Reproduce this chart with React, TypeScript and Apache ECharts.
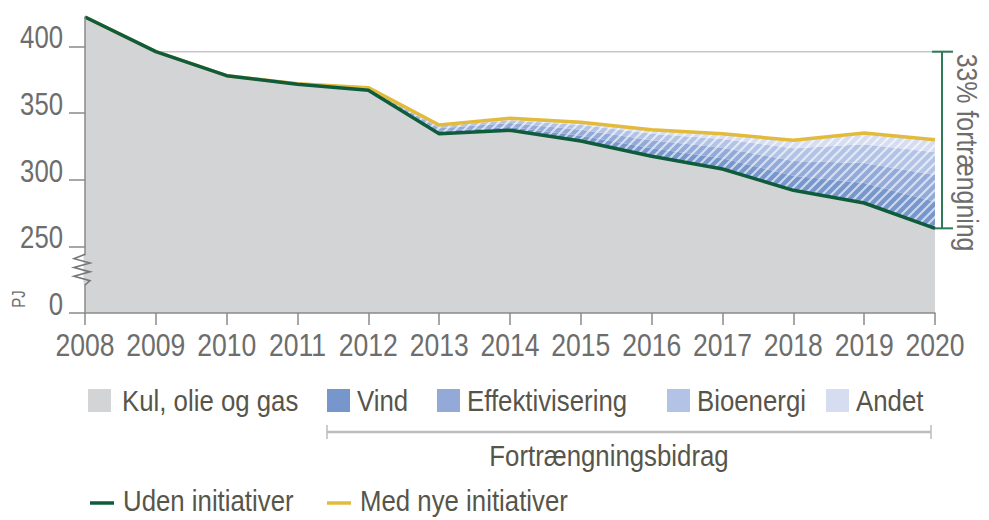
import React, { useEffect, useRef } from "react";
import * as echarts from "echarts";

const years = ["2008", "2009", "2010", "2011", "2012", "2013", "2014", "2015", "2016", "2017", "2018", "2019", "2020"];
const udenInitiativer = [422, 396, 378, 371.5, 367, 334.5, 337, 329, 317.5, 308, 292, 282.5, 263.5];
const medNyeInitiativer = [422, 396, 378, 372, 369, 341, 346, 343, 337.5, 334.5, 329.5, 335, 330];
const vind = [0, 0, 0, 0.15, 0.6, 2, 2.5, 4, 6, 8, 11, 15, 20];
const effektivisering = [0, 0, 0, 0.15, 0.6, 2, 3, 4.5, 6, 8, 11, 15, 20];
const bioenergi = [0, 0, 0, 0.1, 0.5, 1.5, 2, 3.5, 5, 6.5, 9.5, 14, 17];
const andet = [0, 0, 0, 0.1, 0.3, 1, 1.5, 2, 3, 4, 6, 8.5, 9.5];
const yTickValues = [200, 250, 300, 350, 400];
const yTickLabels = ["0", "250", "300", "350", "400"];

const bandNames = ["Vind", "Effektivisering", "Bioenergi", "Andet"];
const bandData = [vind, effektivisering, bioenergi, andet];
const bandColors = ["#7796cb", "#93aad8", "#b2c3e5", "#d6ddf0"];
const fossilName = "Kul, olie og gas";
const fossilColor = "#d3d4d6";
const lineNames = ["Uden initiativer", "Med nye initiativer"];
const greenColor = "#0f5c3c";
const yellowColor = "#e2bb3c";
const bracketLabel = "33% fortrængning";
const groupLabel = "Fortrængningsbidrag";
const unitLabel = "PJ";

const FONT = '"Liberation Sans",Arial,Helvetica,sans-serif';
const SX = 0.83;
const SX_LEGEND = 0.86;
const AXIS_TEXT = "#6d6d6d";
const LEGEND_TEXT = "#57554a";
const AXIS_LINE = "#8a8a8a";

function makeHatch() {
  const s = 9;
  const c = document.createElement("canvas");
  c.width = s;
  c.height = s;
  const ctx = c.getContext("2d")!;
  ctx.strokeStyle = "rgba(255,255,255,0.62)";
  ctx.lineWidth = 2.2;
  ctx.beginPath();
  ctx.moveTo(-1, s + 1);
  ctx.lineTo(s + 1, -1);
  ctx.moveTo(-2, 2);
  ctx.lineTo(2, -2);
  ctx.moveTo(s - 2, s + 2);
  ctx.lineTo(s + 2, s - 2);
  ctx.stroke();
  return c;
}

function txt(text: string, x: number, y: number, size: number, fill: string, align: string, extra: any = {}, sx = SX) {
  return {
    type: "text",
    x,
    y,
    scaleX: sx,
    style: { text, fill, font: `${size}px ${FONT}`, textAlign: align, textVerticalAlign: "middle" },
    z: 20,
    ...extra,
  };
}

export default function App() {
  const ref = useRef<HTMLDivElement>(null);
  useEffect(() => {
    if (!ref.current) return;
    const chart = echarts.init(ref.current, undefined, { renderer: "svg" });
    const hatch = makeHatch();
    const hatchDiff = medNyeInitiativer.map((v, i) => +(v - udenInitiativer[i]).toFixed(2));

    const series: any[] = [
      {
        name: fossilName,
        type: "line",
        data: udenInitiativer,
        showSymbol: false,
        lineStyle: { width: 0 },
        areaStyle: { color: fossilColor, opacity: 1 },
        z: 1,
      },
      {
        name: "base",
        type: "line",
        stack: "fb",
        data: udenInitiativer,
        showSymbol: false,
        lineStyle: { width: 0, opacity: 0 },
        z: 2,
      },
      ...bandNames.map((n, i) => ({
        name: n,
        type: "line",
        stack: "fb",
        data: bandData[i],
        showSymbol: false,
        lineStyle: { width: 0, opacity: 0 },
        areaStyle: { color: bandColors[i], opacity: 1 },
        z: 2,
      })),
      {
        name: "hatchBase",
        type: "line",
        stack: "h",
        data: udenInitiativer,
        showSymbol: false,
        lineStyle: { width: 0, opacity: 0 },
        z: 3,
      },
      {
        name: "hatch",
        type: "line",
        stack: "h",
        data: hatchDiff,
        showSymbol: false,
        lineStyle: { width: 0, opacity: 0 },
        areaStyle: {
          color: { image: hatch, repeat: "repeat", imageWidth: 9, imageHeight: 9 } as any,
          opacity: 1,
        },
        z: 3,
      },
      {
        name: lineNames[1],
        type: "line",
        data: medNyeInitiativer,
        showSymbol: false,
        lineStyle: { width: 3.5, color: yellowColor },
        z: 4,
      },
      {
        name: lineNames[0],
        type: "line",
        data: udenInitiativer,
        showSymbol: false,
        lineStyle: { width: 3.5, color: greenColor },
        z: 5,
      },
    ];

    chart.setOption({
      animation: false,
      grid: { left: 85, right: 54, top: 17, bottom: 207 },
      xAxis: {
        type: "category",
        data: years,
        boundaryGap: false,
        z: 10,
        axisLine: { lineStyle: { color: AXIS_LINE, width: 1.5 } },
        axisTick: { show: true, interval: 0, length: 12, lineStyle: { color: AXIS_LINE, width: 1.5 } },
        axisLabel: { show: false },
        splitLine: { show: false },
      },
      yAxis: {
        type: "value",
        min: 200,
        max: 422,
        interval: 50,
        z: 10,
        axisLine: { show: true, lineStyle: { color: AXIS_LINE, width: 1.5 } },
        axisTick: { show: true, length: 16, customValues: yTickValues, lineStyle: { color: AXIS_LINE, width: 1.5 } },
        axisLabel: { show: false },
        splitLine: { show: false },
      },
      series,
    });

    // annotations computed from data through the chart's scales
    const p = (i: number, v: number) => chart.convertToPixel({ gridIndex: 0 }, [i, v]) as number[];
    const last = years.length - 1;
    const top = p(1, udenInitiativer[1]);
    const bottom = p(last, udenInitiativer[last]);
    const xBr = bottom[0] + 7;
    const base = p(0, 200);
    const axisX = base[0];
    const axisY = base[1];
    const zTop = p(0, 244)[1];
    const zBot = p(0, 221)[1];
    const zh = zBot - zTop;
    const zig: number[][] = [[axisX, zTop]];
    const nZ = 6;
    for (let k = 1; k <= nZ; k++) {
      zig.push([k % 2 === 1 ? axisX - 11 : axisX + 5, zTop + (zh * k) / (nZ + 1)]);
    }
    zig.push([axisX, zBot]);

    const legendRow1 = [
      { name: fossilName, color: fossilColor, x: 88 },
      ...bandNames.map((n, i) => ({ name: n, color: bandColors[i], x: [327, 437, 667, 826][i] })),
    ];
    const legendRow3 = [
      { name: lineNames[0], color: greenColor, x: 90 },
      { name: lineNames[1], color: yellowColor, x: 327 },
    ];

    const xLabels = years.map((y, i) => txt(y, p(i, 200)[0], axisY + 32, 32, AXIS_TEXT, "center"));
    const yLabels = yTickValues.map((v, i) => txt(yTickLabels[i], axisX - 22, p(0, v)[1] - 9, 31, AXIS_TEXT, "right"));

    const graphic: any[] = [
      ...xLabels,
      ...yLabels,
      {
        type: "line",
        shape: { x1: top[0], y1: top[1], x2: xBr + 11, y2: top[1] },
        style: { stroke: "#c6c6c6", lineWidth: 1.5 },
        z: 0,
      },
      { type: "line", shape: { x1: xBr, y1: top[1], x2: xBr, y2: bottom[1] }, style: { stroke: "#2f7a58", lineWidth: 2 }, z: 20 },
      { type: "line", shape: { x1: xBr - 10, y1: top[1], x2: xBr + 11, y2: top[1] }, style: { stroke: "#2f7a58", lineWidth: 2 }, z: 20 },
      { type: "line", shape: { x1: bottom[0], y1: bottom[1], x2: xBr + 11, y2: bottom[1] }, style: { stroke: "#2f7a58", lineWidth: 2 }, z: 20 },
      txt(bracketLabel, xBr + 25, top[1] + 2, 30, AXIS_TEXT, "left", { rotation: -Math.PI / 2 }),
      txt(unitLabel, 19, 299, 18, AXIS_TEXT, "center", { rotation: Math.PI / 2 }),
      {
        type: "rect",
        shape: { x: axisX - 1.5, y: zTop + 1, width: 3, height: zh - 2 },
        style: { fill: fossilColor },
        z: 30,
      },
      {
        type: "polyline",
        shape: { points: zig },
        style: { stroke: "#777", lineWidth: 1.6, fill: null },
        z: 31,
      },
      ...legendRow1.flatMap((it) => [
        { type: "rect", shape: { x: it.x, y: 389, width: 23, height: 23 }, style: { fill: it.color } },
        txt(it.name, it.x + (it.x === 88 ? 34 : 30), 401, 30, LEGEND_TEXT, "left", {}, SX_LEGEND),
      ]),
      { type: "line", shape: { x1: 327, y1: 432, x2: 931, y2: 432 }, style: { stroke: "#bdbdbd", lineWidth: 2.5 } },
      { type: "line", shape: { x1: 327, y1: 425, x2: 327, y2: 439 }, style: { stroke: "#bdbdbd", lineWidth: 1.5 } },
      { type: "line", shape: { x1: 931, y1: 425, x2: 931, y2: 439 }, style: { stroke: "#bdbdbd", lineWidth: 1.5 } },
      txt(groupLabel, 609, 456, 30, LEGEND_TEXT, "center", {}, SX_LEGEND),
      ...legendRow3.flatMap((it) => [
        { type: "line", shape: { x1: it.x, y1: 503, x2: it.x + 24, y2: 503 }, style: { stroke: it.color, lineWidth: 3.5 } },
        txt(it.name, it.x + 33, 501, 30, LEGEND_TEXT, "left", {}, SX_LEGEND),
      ]),
    ];
    chart.setOption({ graphic });

    return () => chart.dispose();
  }, []);
  return <div ref={ref} style={{ width: 989, height: 520, position: "absolute", left: 0, top: 0 }} />;
}
